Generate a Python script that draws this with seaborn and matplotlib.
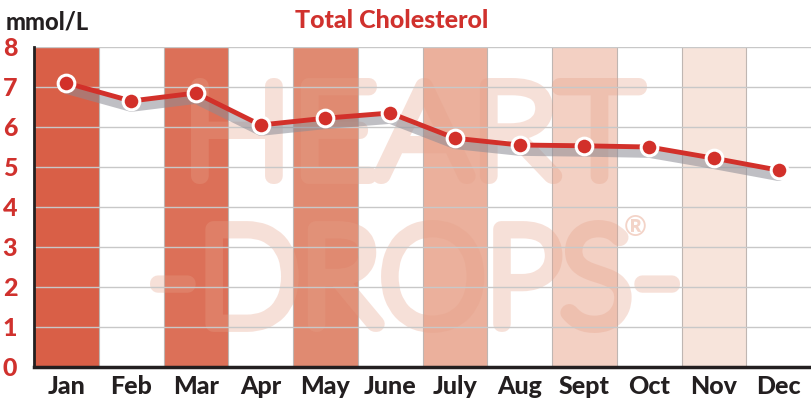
import matplotlib
matplotlib.use("Agg")
import matplotlib.pyplot as plt
from matplotlib.textpath import TextPath
from matplotlib.font_manager import FontProperties
from matplotlib.patches import PathPatch
from matplotlib.transforms import Affine2D
import seaborn as sns
import pandas as pd

months = ["Jan", "Feb", "Mar", "Apr", "May", "June", "July", "Aug", "Sept", "Oct", "Nov", "Dec"]
values = [7.1, 6.65, 6.85, 6.05, 6.22, 6.35, 5.72, 5.55, 5.53, 5.5, 5.22, 4.92]
y_ticks = [0, 1, 2, 3, 4, 5, 6, 7, 8]
band_months = ["Jan", "Mar", "May", "July", "Sept", "Nov"]
band_colors = ["#d95f47", "#dc7058", "#e08a71", "#ebb09c", "#f3d0c3", "#f7e4db"]

sns.set_theme(style="white")
plt.rcParams['font.family'] = ['Lato', 'DejaVu Sans']

df = pd.DataFrame({"month": months, "value": values, "x": range(len(months))})

W, H = 811, 401
fig = plt.figure(figsize=(W / 100, H / 100), dpi=100)
ax = fig.add_axes([34 / W, 34 / H, 777 / W, 320 / H])

# bands
for m, c in zip(band_months, band_colors):
    i = months.index(m)
    ax.axvspan(i - 0.5, i + 0.5, color=c, zorder=0, lw=0)
    ax.axvline(i - 0.5, color="#bfb6b2", lw=0.8, zorder=0.5)
    ax.axvline(i + 0.5, color="#bfb6b2", lw=0.8, zorder=0.5)

# watermark: thick rounded strokes drawn as one path each
wm_color = (230 / 255, 160 / 255, 135 / 255)
fp = FontProperties(family="Lato", weight="light")


def watermark(s, x0, x1, ytop, ybot):
    tp = TextPath((0, 0), s, size=100, prop=fp)
    ext = tp.get_extents()
    sx = (x1 - x0) / ext.width
    sy = (ybot - ytop) / ext.height
    tr = (Affine2D().translate(-ext.x0, -ext.y0).scale(sx, sy)
          .translate(x0, H - ybot))
    patch = PathPatch(tr.transform_path(tp), facecolor="none", edgecolor=wm_color,
                      alpha=0.32, lw=11.5, capstyle="round", joinstyle="round",
                      transform=fig.dpi_scale_trans.inverted() + fig.dpi_scale_trans
                      if False else None, zorder=1)
    patch.set_transform(Affine2D())  # pixel coordinates
    ax.add_patch(patch)


watermark("HEART", 199, 639, 86, 176)
watermark("-DROPS-", 158, 672, 228, 325)
ax.text(8.78, 3.47, "®", fontsize=20, color=wm_color, alpha=0.45, ha="center", va="center",
        zorder=1, fontweight="bold")

# grid
for t in y_ticks[1:]:
    ax.axhline(t, color="#c8c8c8", lw=1.0, zorder=1.2)

# shadow
shadow = df.copy()
shadow["value"] = shadow["value"] - 0.15
sns.lineplot(data=shadow, x="x", y="value", ax=ax, color="#8c8c95", alpha=0.55, lw=7,
             zorder=2, legend=False)

sns.lineplot(data=df, x="x", y="value", ax=ax, color="#d2302a", lw=3.5, marker="o",
             markersize=12, markerfacecolor="#d2302a", markeredgecolor="white",
             markeredgewidth=2.2, zorder=3, legend=False)

ax.set_xlim(-0.5, 11.5)
ax.set_ylim(0, 8)
ax.set_xticks(range(len(months)))
ax.set_xticklabels(months, fontsize=18, fontweight="black", color="#231f20")
ax.set_yticks(y_ticks)
ax.set_yticklabels([str(t) for t in y_ticks], fontsize=18, fontweight="black", color="#d0312d")
ax.tick_params(axis="both", length=0)
ax.tick_params(axis="x", pad=6)
ax.tick_params(axis="y", pad=12)
ax.set_xlabel("")
ax.set_ylabel("")

for s in ["top", "right"]:
    ax.spines[s].set_visible(False)
ax.spines["left"].set_color("#231f20")
ax.spines["left"].set_linewidth(2)
ax.spines["bottom"].set_color("#231f20")
ax.spines["bottom"].set_linewidth(2.5)
ax.axhline(8, color="#c8c8c8", lw=1.2, zorder=1)

fig.text(6 / W, 1 - 22 / H, "mmol/L", fontsize=17, fontweight="black", color="#231f20",
         ha="left", va="center")
fig.text(392 / W, 1 - 20 / H, "Total Cholesterol", fontsize=18, fontweight="black",
         color="#d0312d", ha="center", va="center")

fig.savefig("out.png", dpi=100)
